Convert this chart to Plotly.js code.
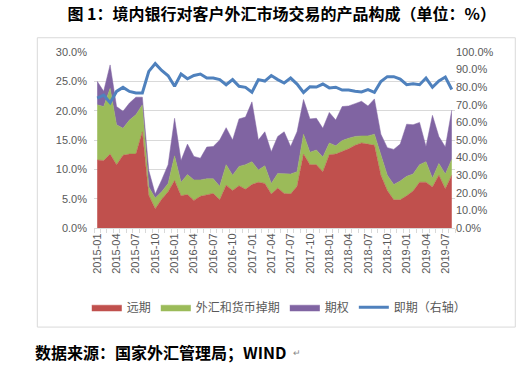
<!DOCTYPE html>
<html>
<head>
<meta charset="utf-8">
<script src="https://cdn.plot.ly/plotly-3.0.1.min.js"></script>
<style>
  html, body { margin: 0; padding: 0; background: #ffffff; }
  #chart { width: 523px; height: 371px; }
</style>
</head>
<body>
<div id="chart"></div>
<script>
const months = [
  "2015-01","2015-02","2015-03","2015-04","2015-05","2015-06","2015-07","2015-08","2015-09","2015-10","2015-11","2015-12",
  "2016-01","2016-02","2016-03","2016-04","2016-05","2016-06","2016-07","2016-08","2016-09","2016-10","2016-11","2016-12",
  "2017-01","2017-02","2017-03","2017-04","2017-05","2017-06","2017-07","2017-08","2017-09","2017-10","2017-11","2017-12",
  "2018-01","2018-02","2018-03","2018-04","2018-05","2018-06","2018-07","2018-08","2018-09","2018-10","2018-11","2018-12",
  "2019-01","2019-02","2019-03","2019-04","2019-05","2019-06","2019-07","2019-08"
];

// 远期 (%)
const forward = [11.6,11.5,12.6,10.8,12.4,12.6,12.6,16.4,5.6,3.3,4.9,6.2,
  8.1,5.5,5.7,4.7,5.4,5.7,5.9,4.8,7.3,6.4,7.2,6.6,
  7.4,7.8,7.6,5.8,6.8,5.9,5.8,7.1,12.6,10.8,10.8,9.6,
  12.5,12.6,13.0,13.5,14.1,14.5,14.3,14.1,9.0,6.4,4.8,4.8,
  5.5,6.3,7.8,7.8,7.0,9.0,6.7,9.0];

// 外汇和货币掉期 (%)
const swap = [9.4,9.2,11.2,6.8,4.6,5.8,6.7,4.6,1.4,1.8,1.3,1.4,
  4.2,2.3,3.4,3.5,2.8,2.7,2.5,2.3,3.5,2.6,3.3,4.2,
  3.9,2.1,3.0,1.8,2.5,3.3,3.4,2.5,3.4,2.1,2.5,2.5,
  2.0,1.4,1.9,1.8,1.5,1.2,1.4,1.9,3.6,2.6,2.6,3.2,
  3.3,2.9,3.0,3.5,1.5,2.0,2.5,2.7];

// 期权 (%)
const option = [4.0,2.6,4.0,3.1,2.9,2.9,3.0,1.3,2.8,0.7,2.0,3.2,
  6.4,3.7,5.2,4.0,3.7,5.4,5.5,7.9,6.3,6.0,8.1,8.1,
  10.2,5.1,5.8,5.4,6.3,7.2,4.7,6.8,5.9,5.7,5.4,4.9,
  5.2,4.4,5.8,5.5,5.6,5.9,5.1,6.0,3.4,4.7,6.0,6.3,
  8.9,8.4,7.2,2.6,10.7,4.6,4.6,8.4];

// 即期 (右轴, %)
const spot = [73.8,75.5,71.2,77.6,79.9,77.6,76.7,76.7,89.0,93.4,89.5,86.5,
  80.5,87.5,84.8,86.7,87.5,85.2,85.2,84.3,81.4,84.3,80.5,79.9,
  77.2,84.3,83.5,86.6,84.3,82.4,85.2,81.8,77.0,80.3,80.1,81.8,
  79.6,80.0,78.4,78.4,77.7,77.3,78.6,77.1,83.2,86.0,86.0,84.6,
  81.4,81.9,81.4,85.2,80.0,83.6,85.8,78.7];

const seriesNames = ["远期", "外汇和货币掉期", "期权", "即期（右轴）"];
const titleText = "图 1：境内银行对客户外汇市场交易的产品构成（单位：%）";
const sourceText = "数据来源：国家外汇管理局；WIND";

const tickText = months.map((m, i) => (i % 3 === 0 ? m : ""));

const latin = "Liberation Sans, Arial, sans-serif";
const cjk = "Noto Sans CJK SC, sans-serif";
const grey = "#595959";

const traces = [
  { x: months, y: forward, name: seriesNames[0], type: "scatter", mode: "lines",
    stackgroup: "one", fill: "tonexty", fillcolor: "#C0504D",
    line: { width: 0.5, color: "#C0504D" } },
  { x: months, y: swap, name: seriesNames[1], type: "scatter", mode: "lines",
    stackgroup: "one", fill: "tonexty", fillcolor: "#9BBB59",
    line: { width: 0.5, color: "#9BBB59" } },
  { x: months, y: option, name: seriesNames[2], type: "scatter", mode: "lines",
    stackgroup: "one", fill: "tonexty", fillcolor: "#8064A2",
    line: { width: 0.5, color: "#8064A2" } },
  { x: months, y: spot, name: seriesNames[3], type: "scatter", mode: "lines",
    yaxis: "y2", line: { width: 3, color: "#4F81BD" } }
];

const layout = {
  width: 523, height: 371,
  margin: { l: 94, r: 68, t: 52, b: 143 },
  paper_bgcolor: "#ffffff", plot_bgcolor: "#ffffff",
  showlegend: true,
  legend: {
    orientation: "h", traceorder: "normal",
    x: -0.02, xanchor: "left", y: -0.45, yanchor: "middle",
    font: { family: cjk, size: 12, color: grey },
    itemwidth: 30, tracegroupgap: 0, bgcolor: "rgba(0,0,0,0)"
  },
  title: {
    text: "<b>" + titleText + "</b>",
    x: 0.52, xanchor: "center", y: 0.96, yanchor: "middle",
    xref: "paper", yref: "container",
    font: { family: cjk, size: 16, color: "#000000" }
  },
  xaxis: {
    type: "category",
    range: [-0.5, months.length - 0.5],
    tickmode: "array", tickvals: months, ticktext: tickText,
    tickson: "boundaries", ticks: "outside", ticklen: 4, tickcolor: "#D9D9D9",
    tickangle: -90,
    tickfont: { family: latin, size: 11, color: grey },
    showline: true, linecolor: "#D9D9D9", linewidth: 1,
    showgrid: false, zeroline: false, fixedrange: true
  },
  yaxis: {
    range: [0, 30], dtick: 5, tickformat: ".1f", ticksuffix: "%",
    tickfont: { family: latin, size: 11, color: grey },
    showgrid: true, gridcolor: "#D9D9D9", gridwidth: 1,
    zeroline: false, showline: false, ticks: "", ticklabelstandoff: 6
  },
  yaxis2: {
    overlaying: "y", side: "right",
    range: [0, 100], dtick: 10, tickformat: ".1f", ticksuffix: "%",
    tickfont: { family: latin, size: 11, color: grey },
    showgrid: false, zeroline: false, showline: false, ticks: ""
  },
  shapes: [
    { type: "rect", xref: "paper", yref: "paper",
      x0: -0.157, x1: 1.167, y0: -0.563, y1: 1.081,
      line: { color: "#D9D9D9", width: 1 }, fillcolor: "rgba(0,0,0,0)", layer: "below" }
  ],
  annotations: [
    { text: "<b>" + sourceText + "</b>", xref: "paper", yref: "paper",
      x: -0.168, y: -0.705, xanchor: "left", yanchor: "middle", showarrow: false,
      font: { family: cjk, size: 16, color: "#000000" } },
    { text: "↵", xref: "paper", yref: "paper",
      x: 0.545, y: -0.71, xanchor: "left", yanchor: "middle", showarrow: false,
      font: { family: latin, size: 9, color: "#888888" } }
  ]
};

Plotly.newPlot("chart", traces, layout, { staticPlot: true, displayModeBar: false });
</script>
</body>
</html>
